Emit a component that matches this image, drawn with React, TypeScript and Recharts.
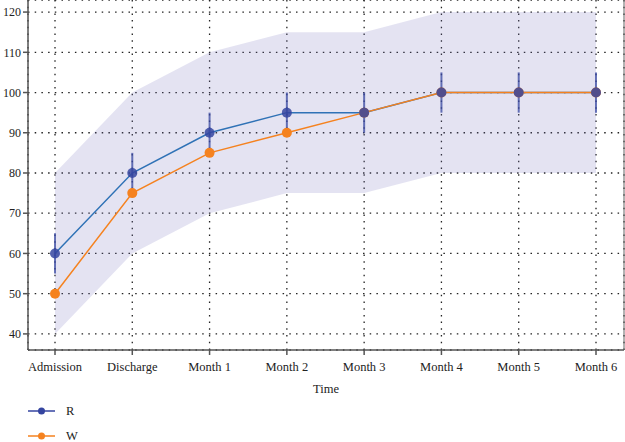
import React from "react";
import {
  ComposedChart,
  Line,
  Area,
  XAxis,
  YAxis,
  CartesianGrid,
  ErrorBar,
} from "recharts";

const categories = ["Admission", "Discharge", "Month 1", "Month 2", "Month 3", "Month 4", "Month 5", "Month 6"];
const rValues = [60, 80, 90, 95, 95, 100, 100, 100];
const rErrors = [5, 5, 5, 5, 5, 5, 5, 5];
const wValues = [50, 75, 85, 90, 95, 100, 100, 100];
const bandLower = [40, 60, 70, 75, 75, 80, 80, 80];
const bandUpper = [80, 100, 110, 115, 115, 120, 120, 120];
const yTicks = [40, 50, 60, 70, 80, 90, 100, 110, 120];

const data = categories.map((c, i) => ({
  name: c,
  R: rValues[i],
  rErr: rErrors[i],
  W: wValues[i],
  band: [bandLower[i], bandUpper[i]],
}));

const FONT = "'Liberation Serif', 'DejaVu Serif', serif";
const R_LINE = "#2f72b6";
const R_DOT = "#3545a0";
const W_COLOR = "#f5821f";

const legendItems = [
  { label: "R", line: R_DOT, dot: R_DOT },
  { label: "W", line: W_COLOR, dot: W_COLOR },
];

export default function App() {
  return (
    <div style={{ position: "absolute", left: 0, top: 0, width: 625, height: 442, background: "#fff" }}>
      <ComposedChart
        width={625}
        height={442}
        data={data}
        margin={{ top: 0, right: 0, bottom: 42, left: 0 }}
      >
        <CartesianGrid stroke="#222" strokeDasharray="1.5 5.2" strokeWidth={1.3} />
        <XAxis
          dataKey="name"
          scale="point"
          padding={{ left: 27, right: 28 }}
          height={50}
          stroke="#555"
          strokeWidth={1.5}
          tickSize={5}
          tickMargin={7}
          tick={{ fill: "#222", fontSize: 12.5, fontFamily: FONT }}
          tickLine={{ stroke: "#555" }}
          label={{ value: "Time", position: "insideBottom", offset: 7, fill: "#222", fontSize: 12.5, fontFamily: FONT }}
        />
        <YAxis
          domain={[36, 123]}
          ticks={yTicks}
          allowDataOverflow
          width={28}
          stroke="#555"
          strokeWidth={1.5}
          tickSize={5}
          tick={{ fill: "#222", fontSize: 12, fontFamily: FONT }}
          tickLine={{ stroke: "#555" }}
        />
        <YAxis
          yAxisId="right"
          orientation="right"
          width={1}
          tick={false}
          tickLine={false}
          stroke="#666"
          domain={[36, 123]}
        />
        <Area
          dataKey="band"
          stroke="none"
          fill="#7a73c0"
          fillOpacity={0.2}
          isAnimationActive={false}
          activeDot={false}
        />
        <Line dataKey="R" stroke={R_LINE} strokeWidth={1.5} dot={false} activeDot={false} isAnimationActive={false} />
        <Line
          dataKey="W"
          stroke={W_COLOR}
          strokeWidth={1.5}
          dot={{ r: 5, fill: W_COLOR, stroke: W_COLOR, strokeWidth: 0 }}
          activeDot={false}
          isAnimationActive={false}
        />
        <Line
          dataKey="R"
          stroke="none"
          dot={{ r: 5, fill: R_DOT, fillOpacity: 0.85, stroke: "none" }}
          activeDot={false}
          isAnimationActive={false}
        >
          <ErrorBar dataKey="rErr" width={0} stroke={R_DOT} strokeWidth={2} strokeOpacity={0.75} direction="y" />
        </Line>
      </ComposedChart>
      <div style={{ position: "absolute", left: 28, top: 398, fontFamily: FONT, fontSize: 12.5, lineHeight: "14px", color: "#222" }}>
        {legendItems.map((it) => (
          <div key={it.label} style={{ display: "flex", alignItems: "center", height: 25 }}>
            <svg width={38} height={10}>
              <line x1={0} y1={5} x2={27} y2={5} stroke={it.line} strokeWidth={1.5} />
              <circle cx={13.5} cy={5} r={3.5} fill={it.dot} />
            </svg>
            <span>{it.label}</span>
          </div>
        ))}
      </div>
    </div>
  );
}
